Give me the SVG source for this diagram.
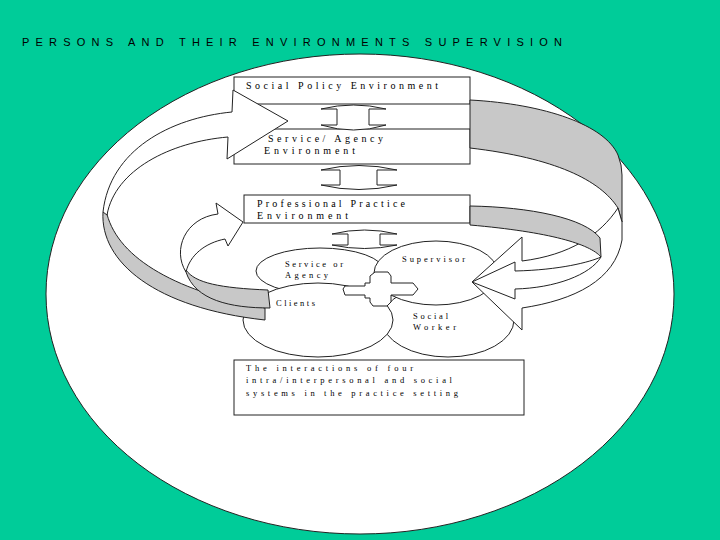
<svg xmlns="http://www.w3.org/2000/svg" width="720" height="540" viewBox="0 0 720 540">
<style>
.ln{stroke:#222;stroke-width:1;fill:#fff}
.band{fill:#c8c8c8;stroke:#222;stroke-width:1;stroke-linejoin:round}
.t{font-family:"Liberation Serif","Times New Roman",serif;font-size:10px;fill:#000}
.s{font-size:8.5px}
.title{font-family:"Liberation Sans",Arial,sans-serif;font-size:11px;fill:#000}
</style>
<rect x="0" y="0" width="720" height="540" fill="#00cc99"/>
<ellipse cx="360" cy="294" rx="314" ry="240" fill="#fff" stroke="#222" stroke-width="1"/>
<g id="title"><text class="title" x="22" y="46" textLength="540" lengthAdjust="spacing">PERSONS AND THEIR ENVIRONMENTS SUPERVISION</text></g>
<g id="social-policy">
<rect class="ln" x="234" y="77" width="236" height="27"/>
<text class="t" x="246" y="89" textLength="192" lengthAdjust="spacing">Social Policy Environment</text>
</g>
<g id="service-agency-environment">
<rect class="ln" x="234" y="129" width="236" height="35"/>
<text class="t" x="268" y="142" textLength="115" lengthAdjust="spacing">Service/ Agency</text>
<text class="t" x="264" y="154" textLength="91" lengthAdjust="spacing">Environment</text>
</g>
<g id="professional-practice">
<rect class="ln" x="244" y="195" width="226" height="28"/>
<text class="t" x="257" y="207" textLength="148" lengthAdjust="spacing">Professional Practice</text>
<text class="t" x="257" y="219" textLength="91" lengthAdjust="spacing">Environment</text>
</g>
<g id="service-or-agency">
<ellipse class="ln" cx="320" cy="271" rx="64" ry="23"/>
<text class="t s" x="285" y="267" textLength="58" lengthAdjust="spacing">Service or</text>
<text class="t s" x="285" y="278" textLength="43" lengthAdjust="spacing">Agency</text>
</g>
<g id="social-worker">
<ellipse class="ln" cx="448" cy="320" rx="66" ry="37"/>
<text class="t s" x="413" y="319" textLength="35" lengthAdjust="spacing">Social</text>
<text class="t s" x="413" y="330" textLength="43" lengthAdjust="spacing">Worker</text>
</g>
<g id="clients">
<ellipse class="ln" cx="318" cy="320" rx="75" ry="37"/>
<text class="t s" x="276" y="306" textLength="39" lengthAdjust="spacing">Clients</text>
</g>
<g id="supervisor">
<ellipse class="ln" cx="436" cy="273" rx="62" ry="32"/>
<text class="t s" x="402" y="262" textLength="63" lengthAdjust="spacing">Supervisor</text>
</g>
<g id="caption">
<rect class="ln" x="234" y="360" width="290" height="55"/>
<text class="t s" x="246" y="371" textLength="167" lengthAdjust="spacing">The interactions of four</text>
<text class="t s" x="246" y="383" textLength="206" lengthAdjust="spacing">intra/interpersonal and social</text>
<text class="t s" x="246" y="396" textLength="212" lengthAdjust="spacing">systems in the practice setting</text>
</g>
<g id="connectors">
<path class="ln" d="M375,272 L388,272 L391,276 L391,283 L413,283 L418,289 L413,295 L391,295 L391,302 L387,306 L373,306 L370,302 L370,298 L365,298 L365,295 L345,295 L343,289 L345,286 L365,286 L365,283 L370,283 L370,276 Z"/>
<path class="ln" d="M321,109 Q353.5,101 386,109 L369,109 L369,125 L386,125 Q353.5,135 321,125 L337,125 L337,109 Z"/>
<path class="ln" d="M321,170 Q359,161 397,170 L377,170 L377,185 L397,185 Q359,194 321,185 L340,185 L340,170 Z"/>
<path class="ln" d="M332,234 Q364.5,226 397,234 L380,234 L380,245 L397,245 Q364.5,252 332,245 L348,245 L348,234 Z"/>
<path class="band" d="M470,100 C545,104 605,125 618,155 Q622,165 622,175 L622,222 L618,208 C600,180 555,158 470,148 Z"/>
<path class="ln" d="M618,208 C600,235 570,255 522,261 L522,237 L472,282 L522,330 L522,308 C575,300 615,280 622,240 L622,222 Z"/>
<path class="band" d="M470,206 C530,207 585,218 600,238 L601,257 C590,244 550,232 470,225 Z"/>
<path class="ln" d="M601,257 C590,262 560,270 515,271 L515,262 L472,282 L515,299 L515,289 C555,288 590,275 601,257 Z"/>
<path class="band" d="M103,212 C100,262 155,308 265,320 L265,308 C170,290 115,255 106,210 Z"/>
<path class="ln" d="M288,121 L233,90 L232,112 C170,118 110,150 103,212 L107,215 C115,170 170,142 228,137 L227,159 Z"/>
<path class="ln" d="M243,222 L216,203 L218,214 C185,218 172,250 186,272 C190,255 205,243 225,239 L228,246 Z"/>
<path class="band" d="M186,270 C195,283 220,288 268,290 L270,308 C230,308 195,300 186,272 Z"/>
</g>
</svg>
